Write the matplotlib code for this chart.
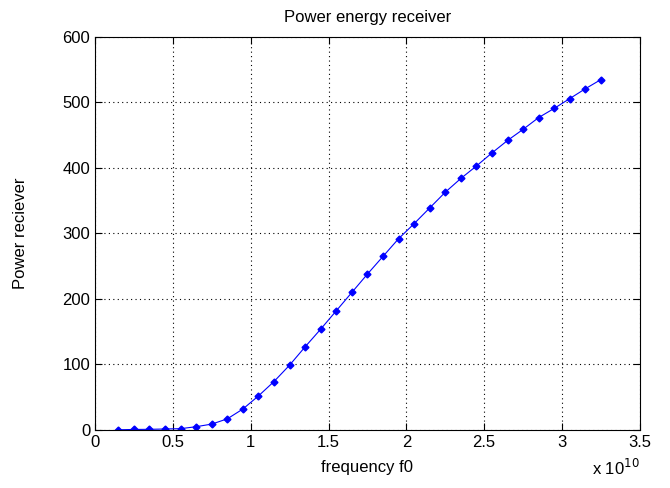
import numpy as np
import matplotlib.pyplot as plt
from matplotlib.ticker import FuncFormatter

# frequency f0 (Hz) and received power
freq = np.array([0.15, 0.25, 0.35, 0.45, 0.55, 0.65, 0.75, 0.85, 0.95, 1.05,
                 1.15, 1.25, 1.35, 1.45, 1.55, 1.65, 1.75, 1.85, 1.95, 2.05,
                 2.15, 2.25, 2.35, 2.45, 2.55, 2.65, 2.75, 2.85, 2.95, 3.05,
                 3.15, 3.25]) * 1e10
power = [0.3, 0.8, 1, 1.5, 2, 5, 9, 17, 32, 52,
         74, 99, 127, 154, 182, 210, 238, 265, 292, 315,
         339, 363, 384, 403, 423, 442, 459, 477, 491, 506,
         521, 535]

plt.rcParams['font.family'] = ['Liberation Sans', 'DejaVu Sans']

fig = plt.figure(figsize=(6.7, 4.88), dpi=100)
ax = fig.add_axes([0.1418, 0.1189, 0.8132, 0.8053])

ax.plot(freq, power, '-', color='blue', linewidth=0.8,
        marker='D', markersize=3.5, markerfacecolor='blue', markeredgecolor='blue')

ax.set_xlim(0, 3.5e10)
ax.set_ylim(0, 600)
ax.set_xticks(np.arange(0, 3.51e10, 0.5e10))
ax.set_yticks(np.arange(0, 601, 100))
ax.xaxis.set_major_formatter(FuncFormatter(lambda v, p: '%g' % (v / 1e10)))

ax.grid(True, linestyle=(0, (1, 3)), color='black', linewidth=0.8)
ax.tick_params(direction='in', top=True, right=True, labelsize=12, length=5)
for s in ax.spines.values():
    s.set_linewidth(0.8)

ax.set_title('Power energy receiver', fontsize=12, y=1.017)
ax.set_xlabel('frequency f0', fontsize=12)
ax.set_ylabel('Power reciever', fontsize=12)
ax.xaxis.set_label_coords(0.5, -0.076)
ax.yaxis.set_label_coords(-0.123, 0.5)
ax.text(1.0, -0.07, r'x 10$^{10}$', transform=ax.transAxes, ha='right', va='top', fontsize=12)

fig.savefig('out.png', dpi=100)
